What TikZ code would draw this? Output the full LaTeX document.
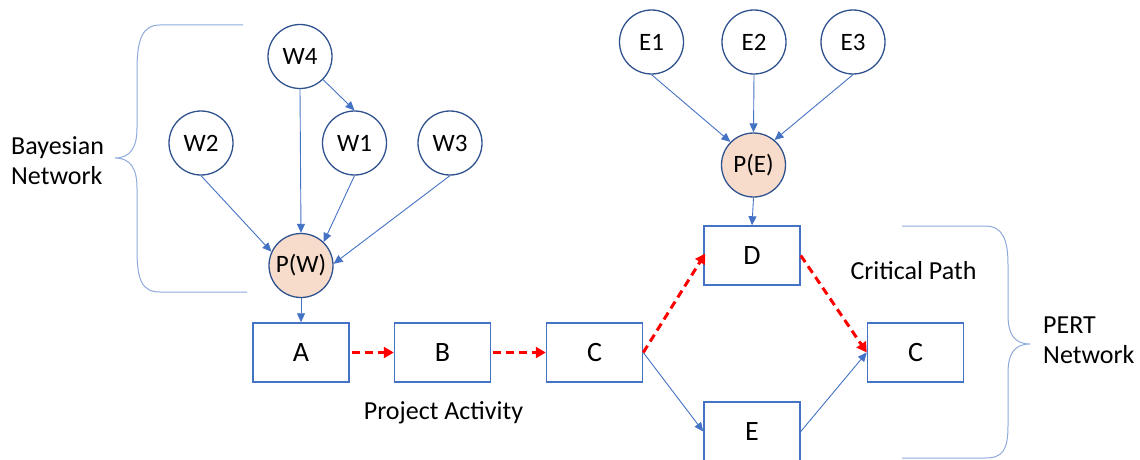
\documentclass[tikz,border=0pt]{standalone}
\usepackage{fontspec}
\setmainfont{Carlito}
\usetikzlibrary{arrows.meta}
\definecolor{edgeblue}{HTML}{4472C4}
\definecolor{rimblue}{HTML}{2F528F}
\definecolor{braceblue}{HTML}{8FAADC}
\definecolor{peach}{HTML}{F8DCCB}
\tikzset{
  var/.style={circle, draw=rimblue, line width=1.3pt, minimum size=64pt, inner sep=0pt,
              font=\fontsize{25}{29}\selectfont},
  prob/.style={var, fill=peach},
  task/.style={rectangle, draw=edgeblue, line width=1.5pt, minimum width=96pt, minimum height=59pt,
               inner sep=0pt, font=\fontsize{28}{32}\selectfont},
  link/.style={draw=edgeblue, line width=0.9pt, -{Triangle[length=9pt,width=8pt]}},
  crit/.style={draw=red, line width=3pt, dash pattern=on 8pt off 5pt,
               -{Triangle[length=10pt,width=11pt]}},
  brace/.style={draw=braceblue, line width=1pt},
  label/.style={font=\fontsize{26}{30}\selectfont, inner sep=0pt, align=left},
}
\begin{document}
\begin{tikzpicture}[x=1pt,y=-1pt]
\useasboundingbox (0,0) rectangle (1140,460);

% Bayesian network feeding task A
\node[var] (W4) at (300,56.5) {W4};
\node[var] (W2) at (201,143) {W2};
\node[var] (W1) at (354.5,143) {W1};
\node[var] (W3) at (450,143) {W3};
\node[prob] (PW) at (301,265.5) {P(W)};

% Bayesian network feeding task D
\node[var] (E1) at (651.5,42) {E1};
\node[var] (E2) at (754,42) {E2};
\node[var] (E3) at (853,42) {E3};
\node[prob] (PE) at (753.5,165) {P(E)};

% project activities
\node[task] (A) at (301,352.5) {A};
\node[task] (B) at (442.5,352.5) {B};
\node[task] (C) at (594.5,352.5) {C};
\node[task] (D) at (752,255.5) {D};
\node[task] (E) at (752,431.5) {E};
\node[task] (C2) at (915.5,352.5) {C};

% labels
\node[label, anchor=west] (bn) at (11,161) {Bayesian\\Network};
\node[label, anchor=west] (pn) at (1043,340) {PERT\\Network};
\node[label] (pa) at (443.5,413) {Project Activity};
\node[label] (cp) at (913.5,271) {Critical Path};

% dependencies
\draw[link] (W4.south) -- (PW.north);
\draw[link] (W4.-45) -- (W1.north);
\draw[link] (W2.south) -- (PW.155);
\draw[link] (W1.south) -- (PW.46);
\draw[link] (W3.south) -- (PW.3);
\draw[link] (PW.south) -- (A.north);
\draw[link] (E1.south) -- (PE.135);
\draw[link] (E2.south) -- (PE.north);
\draw[link] (E3.south) -- (PE.50);
\draw[link] (PE.south) -- (D.north);
\draw[link] (C.east) -- (E.west);
\draw[link] (E.east) -- (C2.west);

% critical path
\draw[crit] ([xshift=2pt]A.east) -- (B.west);
\draw[crit] ([xshift=2pt]B.east) -- (C.west);
\draw[crit] (C.east) -- ([xshift=2pt,yshift=2pt]D.west);
\draw[crit] (D.east) -- (C2.west);

% braces
\draw[brace] (243,25) -- (160,25) .. controls (142,25) and (137,40) .. (137,70)
  -- (137,128) .. controls (137,148) and (130,158) .. (115,158)
  .. controls (130,158) and (137,168) .. (137,188)
  -- (137,250) .. controls (137,280) and (142,292) .. (160,292) -- (247,292);
\draw[brace] (902,226) -- (985,226) .. controls (1003,226) and (1008,240) .. (1008,265)
  -- (1008,315) .. controls (1008,335) and (1015,344) .. (1030,344)
  .. controls (1015,344) and (1008,353) .. (1008,373)
  -- (1008,425) .. controls (1008,450) and (1003,458) .. (985,458) -- (902,458);
\end{tikzpicture}
\end{document}
